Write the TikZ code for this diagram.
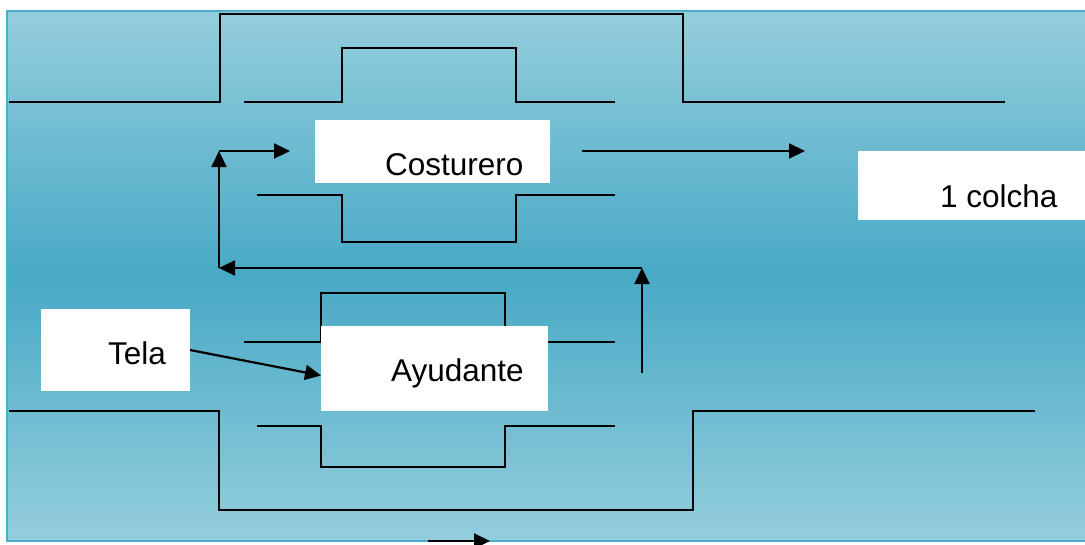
\documentclass[tikz,border=0pt]{standalone}
\usepackage{fontspec}
\setmainfont{Liberation Sans}
\usepackage{tikz}
\usetikzlibrary{arrows.meta,positioning,calc}
\definecolor{bgLight}{HTML}{94CEDD}
\definecolor{bgDark}{HTML}{48A9C6}
\definecolor{bgEdge}{HTML}{4AADCA}

\begin{document}
\begin{tikzpicture}[
  x=1pt, y=-1pt,
  every node/.style={font=\fontsize{31.5}{36}\selectfont},
  box/.style={fill=white, inner sep=0pt, outer sep=0pt, anchor=north west},
  lbl/.style={inner sep=0pt, anchor=base west},
  wall/.style={line width=1.7pt},
  arr/.style={-{Triangle[length=16pt,width=15pt]}, line width=2.2pt}
]
\useasboundingbox (0,0) rectangle (1085,544);
\clip (0,0) rectangle (1085,544);
\shadedraw[top color=bgLight, bottom color=bgLight, middle color=bgDark, draw=bgEdge, line width=2pt] (7,11) rectangle (1095,541);

% outer walls
\draw[wall] (9,102) -- (220,102) -- (220,14) -- (683,14) -- (683,102) -- (1005,102);
\draw[wall] (9,411) -- (219,411) -- (219,510) -- (693,510) -- (693,411) -- (1035,411);

% Costurero station
\draw[wall] (244,102) -- (342,102) -- (342,48) -- (516,48) -- (516,102) -- (615,102);
\draw[wall] (257,195) -- (342,195) -- (342,242) -- (516,242) -- (516,195) -- (615,195);

% Ayudante station
\draw[wall] (244,342) -- (321,342) -- (321,293) -- (505,293) -- (505,342) -- (615,342);
\draw[wall] (257,426) -- (321,426) -- (321,467) -- (505,467) -- (505,426) -- (615,426);

% white boxes
\node[box, minimum width=235pt, minimum height=63pt] (cost) at (315,120) {};
\node[box, minimum width=240pt, minimum height=69pt] (colcha) at (858,151) {};
\node[box, minimum width=149pt, minimum height=82pt] (tela) at (41,309) {};
\node[box, minimum width=227pt, minimum height=85pt] (ayud) at (321,326) {};
\node[lbl] (costT) at (385,175) {Costurero};
\node[lbl] (colchaT) at (940,207) {1 colcha};
\node[lbl] (telaT) at (108,364) {Tela};
\node[lbl] (ayudT) at (391,381) {Ayudante};

% arrows
\coordinate (loopR) at (642,373);
\coordinate (loopRT) at (642,268);
\coordinate (loopL) at (219,268);
\coordinate (loopLT) at (219,151);
\coordinate (inArr) at (290,151);
\coordinate (outS) at (582,151);
\coordinate (outE) at (805,151);
\coordinate (flowS) at (428,541);
\coordinate (flowE) at (490,541);
\draw[arr] (loopR) -- (loopRT);
\draw[arr] (loopRT) -- (loopL);
\draw[arr] (loopL) -- (loopLT);
\draw[arr] (loopLT) -- (inArr);
\draw[arr] (outS) -- (outE);
\draw[arr] (tela.east) -- ($(ayud.west)+(0,7)$);
\draw[arr] (flowS) -- (flowE);
\end{tikzpicture}
\end{document}
